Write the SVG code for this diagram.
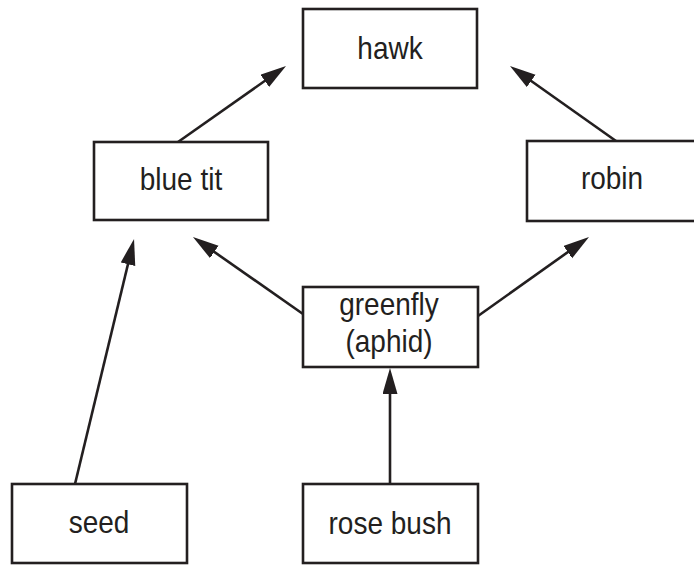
<svg xmlns="http://www.w3.org/2000/svg" width="694" height="565" viewBox="0 0 694 565">
<style>
.box{fill:#fff;stroke:#231f20;stroke-width:2.6}
.lbl{font-family:"Liberation Sans",Arial,Helvetica,sans-serif;font-size:28px;fill:#231f20;text-anchor:middle}
.arr{stroke:#231f20;stroke-width:2.6;fill:none;marker-end:url(#ah)}
</style>
<defs>
<marker id="ah" markerUnits="userSpaceOnUse" markerWidth="27" markerHeight="16" refX="19" refY="7.5" orient="auto">
<path d="M0,0 L26,7.5 L0,15 Z" fill="#231f20"/>
</marker>
</defs>
<rect width="694" height="565" fill="#fff"/>
<g id="connectors">
<line class="arr" x1="178" y1="142" x2="280.3" y2="70"/>
<line class="arr" x1="616" y1="141" x2="515.7" y2="70"/>
<line class="arr" x1="303" y1="314" x2="198.7" y2="241"/>
<line class="arr" x1="478" y1="316" x2="583.3" y2="241.1"/>
<line class="arr" x1="390" y1="484" x2="390" y2="375"/>
<line class="arr" x1="75" y1="484" x2="132.4" y2="245.8"/>
</g>
<g id="hawk"><rect class="box" x="303" y="9" width="174" height="79"/><text class="lbl" transform="translate(390,59) scale(1,1.15)">hawk</text></g>
<g id="bluetit"><rect class="box" x="94" y="142" width="174" height="78"/><text class="lbl" transform="translate(181,190) scale(1,1.15)">blue tit</text></g>
<g id="robin"><rect class="box" x="527" y="141" width="174" height="80"/><text class="lbl" transform="translate(612,189) scale(1,1.15)">robin</text></g>
<g id="greenfly"><rect class="box" x="303" y="287" width="175" height="80"/><text class="lbl" transform="translate(389,315) scale(1,1.15)">greenfly</text><text class="lbl" transform="translate(389,352) scale(1,1.15)">(aphid)</text></g>
<g id="seed"><rect class="box" x="12" y="484" width="175" height="79"/><text class="lbl" transform="translate(99,533) scale(1,1.15)">seed</text></g>
<g id="rosebush"><rect class="box" x="303" y="484" width="175" height="79"/><text class="lbl" transform="translate(390,534) scale(1,1.15)">rose bush</text></g>
</svg>
